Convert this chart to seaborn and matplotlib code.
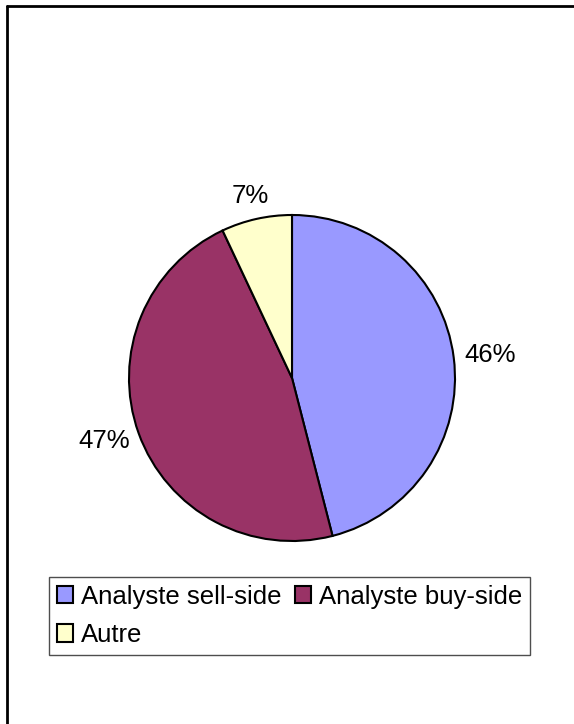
import numpy as np
import seaborn as sns
import matplotlib.pyplot as plt
from matplotlib.lines import Line2D

categories = ['Analyste sell-side', 'Analyste buy-side', 'Autre']
shares = [46, 47, 7]
colors = ['#9999FF', '#993366', '#FFFFCC']

sns.set_theme(style='white')
plt.rcParams['font.family'] = ['Liberation Sans', 'DejaVu Sans']
plt.rcParams['text.color'] = 'black'

fig = plt.figure(figsize=(5.74, 7.24), dpi=100)
W, H = 574, 724
cx, cy, r = 292, 378, 163
ax = fig.add_axes([(cx - r) / W, (H - cy - r) / H, 2 * r / W, 2 * r / H])

wedges, texts, autotexts = ax.pie(
    shares, colors=colors, startangle=90, counterclock=False,
    autopct='%1.0f%%', pctdistance=1.2,
    wedgeprops=dict(edgecolor='black', linewidth=1.5),
    textprops=dict(fontsize=18.5, color='black'))
ax.set_xlim(-1, 1)
ax.set_ylim(-1, 1)
ax.set_aspect('equal')

# place labels just outside the rim, like Excel's outside-end labels
fig.canvas.draw()
rend = fig.canvas.get_renderer()
gap = 11 / r
for w, t in zip(wedges, autotexts):
    th = np.deg2rad((w.theta1 + w.theta2) / 2)
    ext = t.get_window_extent(rend)
    hw, hh = ext.width / 2 / r, ext.height / 2 / r
    x = (1 + gap) * np.cos(th) + hw * np.cos(th)
    y = (1 + gap) * np.sin(th) + hh * np.sin(th)
    t.set_position((x, y))
    t.set_ha('center')
    t.set_va('center')

# legend row-major: sell, buy / Autre
order = [0, 2, 1]
handles = [wedges[i] for i in order]
labels = [categories[i] for i in order]
leg = fig.legend(handles, labels, ncol=2, loc='center',
                 bbox_to_anchor=(289.5 / W, 1 - 616 / H),
                 fontsize=18.5, frameon=True, fancybox=False,
                 handlelength=0.65, handleheight=0.65, handletextpad=0.3,
                 columnspacing=0.5, labelspacing=0.55, borderpad=0.3,
                 borderaxespad=0, labelcolor='black')
leg.get_frame().set_edgecolor('#222222')
leg.get_frame().set_linewidth(1.0)

# outer frame (top and left edges)
fig.add_artist(Line2D([7 / W, 7 / W], [0, 1 - 6 / H], color='black', lw=2, transform=fig.transFigure))
fig.add_artist(Line2D([7 / W, 1], [1 - 6 / H, 1 - 6 / H], color='black', lw=2, transform=fig.transFigure))

fig.savefig('out.png', dpi=100)
